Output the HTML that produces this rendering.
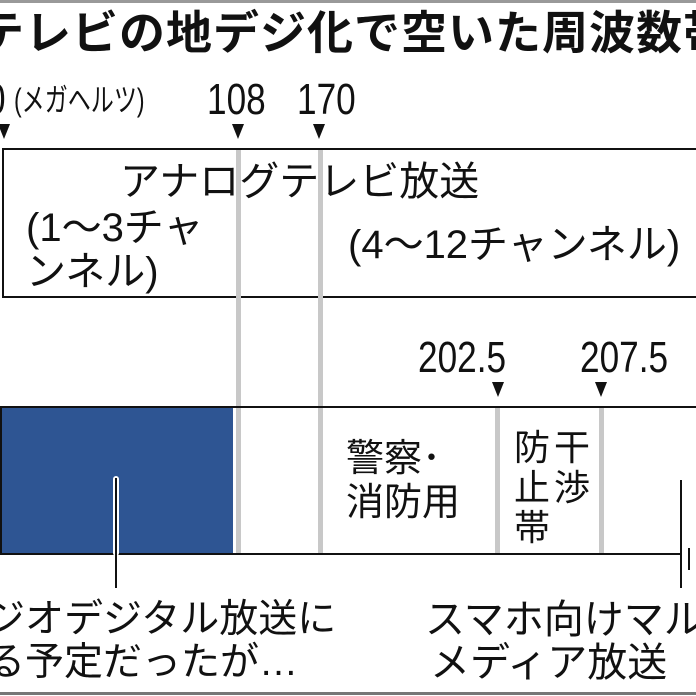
<!DOCTYPE html>
<html><head><meta charset="utf-8"><style>
body{margin:0;width:696px;height:696px;overflow:hidden;background:#fff;position:relative;font-family:"Liberation Sans","Noto Sans CJK JP",sans-serif;color:#111}
.t{position:absolute;white-space:nowrap;line-height:1}
.n{position:absolute;white-space:nowrap;line-height:1;font-size:44px;transform:scaleX(0.8);transform-origin:0 0;font-family:"Liberation Sans",sans-serif}
.tri{position:absolute;width:0;height:0;border-left:6px solid transparent;border-right:6px solid transparent;border-top:15px solid #111}
.g{position:absolute;width:5px;background:#c8c8c8}
</style></head><body>
<div style="position:absolute;left:0;top:0;width:696px;height:3px;background:#999"></div>
<div style="position:absolute;left:0;top:692px;width:696px;height:3px;background:#777"></div>
<div class="t" style="left:-22px;top:10px;font-size:46px;font-weight:bold;letter-spacing:1px">テレビの地デジ化で空いた周波数帯</div>
<div class="n" style="left:-14px;top:78px">0</div>
<div class="t" style="left:14px;top:84px;font-size:32px;transform:scaleX(0.72);transform-origin:0 0">(メガヘルツ)</div>
<div class="n" style="left:207px;top:78px">108</div>
<div class="n" style="left:297px;top:78px">170</div>
<div class="tri" style="left:-2px;top:124px"></div>
<div class="tri" style="left:232px;top:124px"></div>
<div class="tri" style="left:313px;top:124px"></div>
<div style="position:absolute;left:2px;top:148px;width:700px;height:146px;border:2px solid #111;box-sizing:content-box"></div>
<div class="g" style="left:236px;top:150px;height:405px"></div>
<div class="g" style="left:318px;top:150px;height:405px"></div>
<div class="t" style="left:120px;top:162px;font-size:40px">アナログテレビ放送</div>
<div class="t" style="left:26px;top:208px;font-size:40px">(1～3チャ</div>
<div class="t" style="left:26px;top:252px;font-size:40px">ンネル)</div>
<div class="t" style="left:348px;top:225px;font-size:40px">(4～12チャンネル)</div>
<div class="n" style="left:418px;top:336px">202.5</div>
<div class="n" style="left:580px;top:336px">207.5</div>
<div class="tri" style="left:492px;top:382px"></div>
<div class="tri" style="left:595px;top:382px"></div>
<div style="position:absolute;left:0;top:406px;width:700px;height:2px;background:#111"></div>
<div style="position:absolute;left:0;top:553px;width:680px;height:2px;background:#111"></div>
<div style="position:absolute;left:0;top:406px;width:2px;height:149px;background:#111"></div>
<div style="position:absolute;left:2px;top:408px;width:231px;height:145px;background:#2e5593"></div>
<div class="g" style="left:236px;top:408px;height:145px"></div>
<div class="g" style="left:318px;top:408px;height:145px"></div>
<div class="g" style="left:495px;top:408px;height:145px"></div>
<div class="g" style="left:599px;top:408px;height:145px"></div>
<div style="position:absolute;left:113px;top:476px;width:6px;height:80px;background:#fff;border-radius:3px"></div>
<div style="position:absolute;left:115px;top:478px;width:2px;height:110px;background:#111"></div>
<div class="t" style="left:346px;top:440px;font-size:38px">警察･</div>
<div class="t" style="left:346px;top:484px;font-size:38px">消防用</div>
<div class="t" style="left:514px;top:428px;font-size:36px;line-height:40px">防<br>止<br>帯</div>
<div class="t" style="left:554px;top:428px;font-size:36px;line-height:40px">干<br>渉</div>
<div style="position:absolute;left:680px;top:480px;width:2px;height:108px;background:#111"></div>
<div style="position:absolute;left:688px;top:548px;width:2px;height:22px;background:#111"></div>
<div class="t" style="left:-14px;top:600px;font-size:39px">ジオデジタル放送に</div>
<div class="t" style="left:-14px;top:643px;font-size:39px">る予定だったが…</div>
<div class="t" style="left:425px;top:600px;font-size:40px">スマホ向けマルチ</div>
<div class="t" style="left:430px;top:643px;font-size:40px">メディア放送</div>
</body></html>
